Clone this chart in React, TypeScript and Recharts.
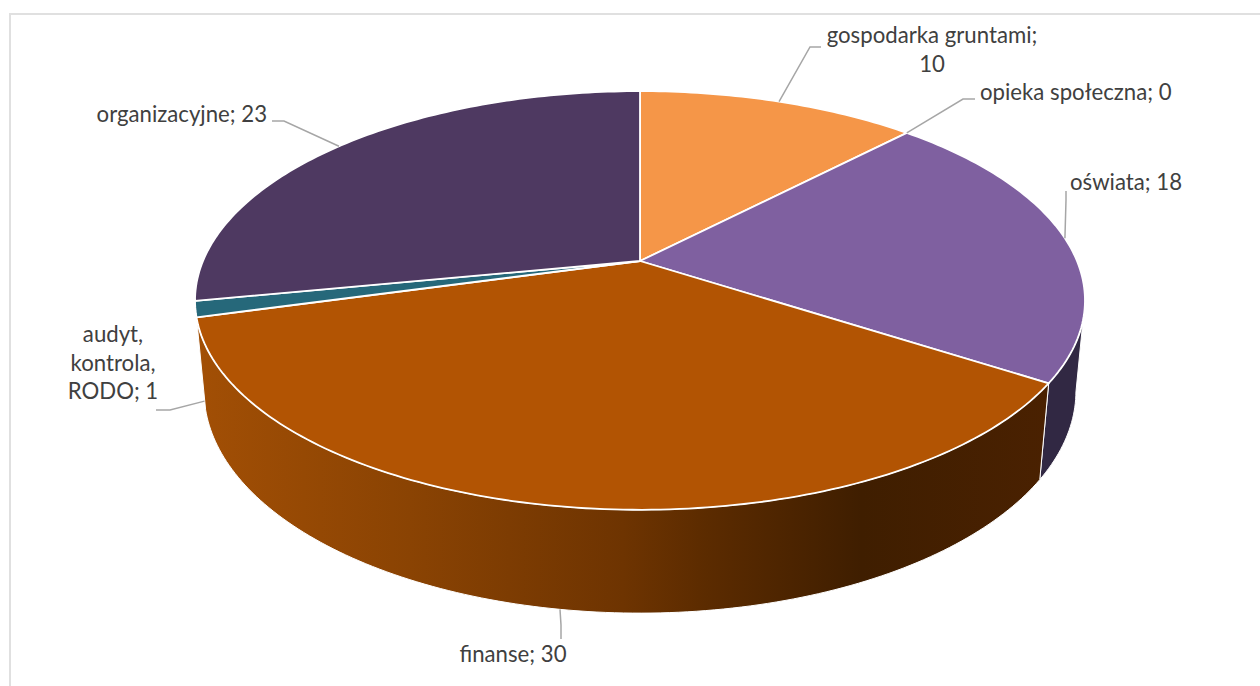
import React from 'react';
import { PieChart, Pie } from 'recharts';

const CATEGORIES = ['gospodarka gruntami', 'opieka społeczna', 'oświata', 'finanse', 'audyt, kontrola, RODO', 'organizacyjne'];
const VALUES = [10, 0, 18, 30, 1, 23];
const TOP_COLORS = ['#f59648', '#a5a5a5', '#7f60a0', '#b25403', '#26687a', '#4e3961'];
const WALL_COLORS = ['none', 'none', '#312843', 'url(#financeWall)', 'none', 'none'];

// Hand placed label layout: elbow and end of the leader line, then the text lines
const LABEL_LAYOUT: Record<string, any> = {
  'gospodarka gruntami': { elbow: [810, 47], end: [821, 47], x: 932, y: 43, anchor: 'middle', lines: ['gospodarka gruntami;', '10'] },
  'opieka społeczna': { elbow: [963, 99], end: [975, 99], x: 980, y: 100, anchor: 'start', lines: ['opieka społeczna; 0'] },
  'oświata': { elbow: [1066, 200], end: [1066, 191], x: 1070, y: 190, anchor: 'start', lines: ['oświata; 18'] },
  'finanse': { elbow: [561, 625], end: [561, 639], x: 513, y: 662, anchor: 'middle', lines: ['finanse; 30'] },
  'audyt, kontrola, RODO': { elbow: [170, 410], end: [156, 410], x: 113, y: 342, anchor: 'middle', lines: ['audyt,', 'kontrola,', 'RODO; 1'] },
  'organizacyjne': { elbow: [284, 121], end: [272, 121], x: 267, y: 122, anchor: 'end', lines: ['organizacyjne; 23'] },
};

const tableTop = CATEGORIES.map((name, i) => ({ name, value: VALUES[i], fill: TOP_COLORS[i] }));
const tableWall = CATEGORIES.map((name, i) => ({ name, value: VALUES[i], fill: WALL_COLORS[i] }));

// Perspective of the tilted pie
const TILT = 0.1885;
const DEPTH_SHRINK = 0.02;
const SQUASH = 0.462;
const WALL = 0.208;
// Angles where the rim turns away from the viewer
const SILHOUETTE_RIGHT = -10.86;
const SILHOUETTE_LEFT = -169.14;

const project = (angle: number, depth: number, cx: number, cy: number, r: number) => {
  const a = (angle * Math.PI) / 180;
  const X = Math.cos(a);
  const Y = -Math.sin(a);
  const d = 1 - TILT * Y + DEPTH_SHRINK * depth;
  return [cx + (r * X) / d, cy + (r * SQUASH * Y + r * WALL * depth) / d];
};

const arcPoints = (from: number, to: number, depth: number, cx: number, cy: number, r: number) => {
  const steps = Math.max(2, Math.ceil(Math.abs(from - to)));
  const pts = [];
  for (let i = 0; i <= steps; i++) {
    pts.push(project(from + ((to - from) * i) / steps, depth, cx, cy, r));
  }
  return pts;
};

const toPath = (pts: number[][]) =>
  'M' + pts.map((p) => `${p[0].toFixed(2)},${p[1].toFixed(2)}`).join('L') + 'Z';

const TopFace = (props: any) => {
  const { cx, cy, outerRadius, startAngle, endAngle, fill } = props;
  if (startAngle === endAngle) return null;
  const pts = [[cx, cy], ...arcPoints(startAngle, endAngle, 0, cx, cy, outerRadius)];
  return <path d={toPath(pts)} fill={fill} stroke="#ffffff" strokeWidth={1.8} strokeLinejoin="round" />;
};

const WallFace = (props: any) => {
  const { cx, cy, outerRadius, startAngle, endAngle, fill } = props;
  const from = Math.min(startAngle, SILHOUETTE_RIGHT);
  const to = Math.max(endAngle, SILHOUETTE_LEFT);
  if (from <= to || fill === 'none') return null;
  const pts = [
    ...arcPoints(from, to, 0, cx, cy, outerRadius),
    ...arcPoints(to, from, 1, cx, cy, outerRadius),
  ];
  return <path d={toPath(pts)} fill={fill} stroke="#ffffff" strokeWidth={1} strokeLinejoin="round" />;
};

const SliceLabel = (props: any) => {
  const { cx, cy, outerRadius, midAngle, name } = props;
  const layout = LABEL_LAYOUT[name];
  if (!layout) return null;
  // front slices hang their leader from the foot of the wall
  const foot = name === 'finanse' || name.startsWith('audyt');
  const start = project(midAngle, foot ? 1 : 0, cx, cy, outerRadius);
  return (
    <g>
      <polyline
        points={`${start[0]},${start[1]} ${layout.elbow[0]},${layout.elbow[1]} ${layout.end[0]},${layout.end[1]}`}
        fill="none"
        stroke="#a6a6a6"
        strokeWidth={1.5}
      />
      <text
        x={layout.x}
        y={layout.y}
        textAnchor={layout.anchor}
        fontFamily="Lato"
        fontSize={22.2}
        fill="#404040"
      >
        {layout.lines.map((line: string, i: number) => (
          <tspan key={line} x={layout.x} dy={i === 0 ? 0 : 28.7}>
            {line}
          </tspan>
        ))}
      </text>
    </g>
  );
};

export default function App() {
  return (
    <div style={{ position: 'absolute', left: 0, top: 0, width: 1260, height: 686, background: '#ffffff', overflow: 'hidden' }}>
      <div style={{ position: 'absolute', left: 9, top: 13, width: 1260, height: 686, borderTop: '2px solid #e0e0e0', borderLeft: '2px solid #e0e0e0' }} />
      <div style={{ position: 'absolute', left: 0, top: 0 }}>
        <PieChart width={1260} height={686} margin={{ top: 0, right: 0, bottom: 0, left: 0 }}>
          <defs>
            <linearGradient id="financeWall" gradientUnits="userSpaceOnUse" x1="197" y1="0" x2="1049" y2="0">
              <stop offset="0" stopColor="#a24f05" />
              <stop offset="0.25" stopColor="#8a4303" />
              <stop offset="0.5" stopColor="#6e3401" />
              <stop offset="0.6" stopColor="#5b2b00" />
              <stop offset="0.78" stopColor="#3f1e00" />
              <stop offset="1" stopColor="#4a2101" />
            </linearGradient>
          </defs>
          <Pie
            data={tableWall}
            dataKey="value"
            nameKey="name"
            cx={640}
            cy={261}
            outerRadius={437}
            startAngle={90}
            endAngle={-270}
            shape={WallFace}
            inactiveShape={WallFace}
            labelLine={false}
            isAnimationActive={false}
          />
          <Pie
            data={tableTop}
            dataKey="value"
            nameKey="name"
            cx={640}
            cy={261}
            outerRadius={437}
            startAngle={90}
            endAngle={-270}
            shape={TopFace}
            inactiveShape={TopFace}
            label={SliceLabel}
            labelLine={false}
            isAnimationActive={false}
          />
        </PieChart>
      </div>
    </div>
  );
}
